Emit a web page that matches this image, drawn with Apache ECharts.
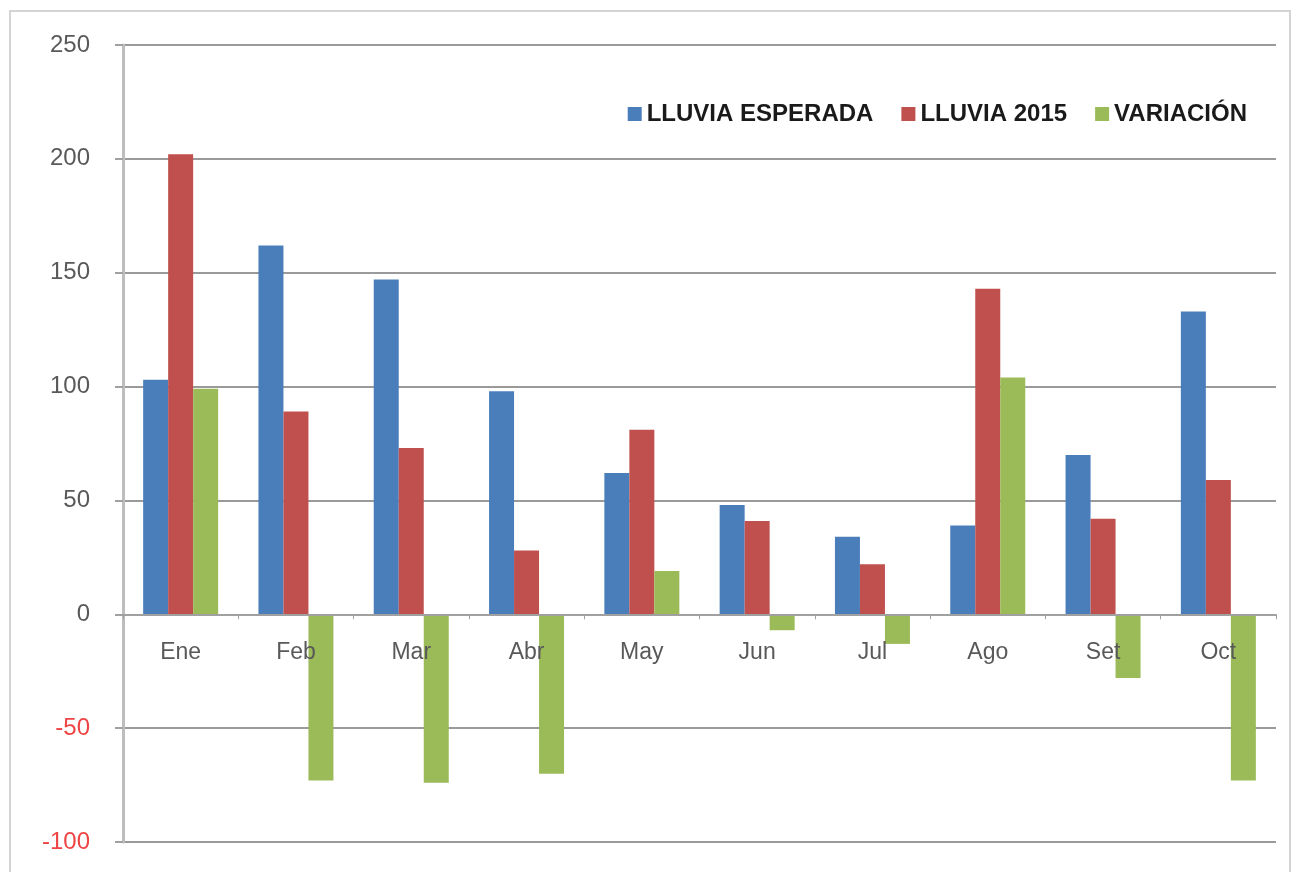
<!DOCTYPE html>
<html>
<head>
<meta charset="utf-8">
<script src="https://cdn.jsdelivr.net/npm/echarts@6/dist/echarts.min.js"></script>
<style>
html,body{margin:0;padding:0;background:#fff;}
#chart{width:1298px;height:872px;}
</style>
</head>
<body>
<div id="chart"></div>
<script>
const months = ['Ene','Feb','Mar','Abr','May','Jun','Jul','Ago','Set','Oct'];
const lluviaEsperada = [103, 162, 147, 98, 62, 48, 34, 39, 70, 133];
const lluvia2015 = [202, 89, 73, 28, 81, 41, 22, 143, 42, 59];
const variacion = [99, -73, -74, -70, 19, -7, -13, 104, -28, -73];
const seriesNames = ['LLUVIA ESPERADA', 'LLUVIA 2015', 'VARIACIÓN'];
const seriesColors = ['#4a7ebb', '#c0504d', '#9bbb59'];
const yTickMin = -100, yTickMax = 250, yTickStep = 50;

const gridTop = 45, gridBottom = 30, chartH = 872;
const plotH = chartH - gridTop - gridBottom;
// move the category axis (with its labels) up to the zero line
const zeroOffset = -plotH * (0 - yTickMin) / (yTickMax - yTickMin);

const chart = echarts.init(document.getElementById('chart'), null, {renderer: 'canvas'});
const fontFam = '"Liberation Sans", Arial, sans-serif';
chart.setOption({
  animation: false,
  backgroundColor: '#ffffff',
  graphic: [{
    type: 'rect',
    shape: {x: 10, y: 11, width: 1280, height: 880},
    style: {fill: 'none', stroke: '#d4d4d4', lineWidth: 2},
    silent: true, z: -10
  }],
  legend: {
    data: seriesNames,
    right: 46,
    top: 97,
    itemWidth: 14,
    itemHeight: 14,
    itemGap: 28,
    icon: 'rect',
    textStyle: {fontFamily: fontFam, fontWeight: 'bold', fontSize: 24, color: '#1a1a1a'}
  },
  grid: {left: 123, right: 22, top: gridTop, bottom: gridBottom, containLabel: false, outerBoundsMode: 'none'},
  xAxis: {
    type: 'category',
    data: months,
    position: 'bottom',
    offset: zeroOffset,
    z: 10,
    axisLine: {onZero: false, lineStyle: {color: '#a0a0a0', width: 2}},
    axisTick: {show: true, alignWithLabel: false, length: 5, inside: false, lineStyle: {color: '#a0a0a0', width: 1}},
    axisLabel: {fontFamily: fontFam, fontSize: 23, color: '#595959', margin: 27},
    splitLine: {show: false}
  },
  yAxis: {
    type: 'value',
    min: yTickMin,
    max: yTickMax,
    interval: yTickStep,
    axisLine: {show: true, lineStyle: {color: '#bdbdbd', width: 3}},
    axisTick: {show: true, length: 8, lineStyle: {color: '#a0a0a0', width: 2}},
    axisLabel: {
      fontFamily: fontFam, fontSize: 24, margin: 33,
      color: function (v) { return Number(v) < 0 ? '#ee4444' : '#595959'; }
    },
    splitLine: {show: true, lineStyle: {color: '#9a9a9a', width: 2}}
  },
  series: [
    {name: seriesNames[0], type: 'bar', data: lluviaEsperada, barWidth: 25, barGap: '0%', itemStyle: {color: seriesColors[0]}},
    {name: seriesNames[1], type: 'bar', data: lluvia2015, barWidth: 25, barGap: '0%', itemStyle: {color: seriesColors[1]}},
    {name: seriesNames[2], type: 'bar', data: variacion, barWidth: 25, barGap: '0%', itemStyle: {color: seriesColors[2]}}
  ]
});
</script>
</body>
</html>
